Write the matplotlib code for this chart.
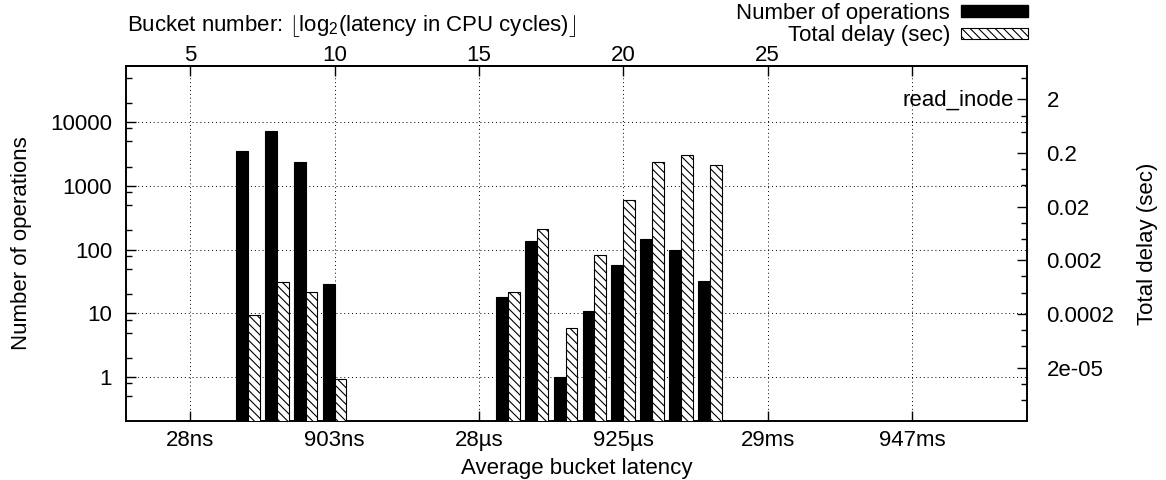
import matplotlib
matplotlib.use("Agg")
import matplotlib.pyplot as plt
from matplotlib.patches import Patch
from matplotlib.ticker import FixedLocator, LogLocator, NullFormatter
import numpy as np

plt.rcParams['font.family'] = ['Liberation Sans', 'DejaVu Sans']
plt.rcParams['font.size'] = 16
plt.rcParams['hatch.linewidth'] = 0.8
plt.rcParams['mathtext.fontset'] = 'custom'
plt.rcParams['mathtext.rm'] = 'Liberation Sans'

# bucket number = floor(log2(latency in CPU cycles))
buckets = [7, 8, 9, 10, 16, 17, 18, 19, 20, 21, 22, 23]
ops = [3550, 7300, 2400, 29, 18, 135, 1, 11, 58, 148, 99, 32]
delay = [1.9e-4, 7.9e-4, 5.2e-4, 1.2e-5, 5.1e-4, 7.8e-3, 1.1e-4, 2.55e-3,
         0.027, 0.138, 0.184, 0.12]

top_ticks = [5, 10, 15, 20, 25, 30]
top_labels = ['5', '10', '15', '20', '25', '']
bottom_labels = ['28ns', '903ns', '28µs', '925µs', '29ms', '947ms']
left_ticks = [1, 10, 100, 1000, 10000]
right_ticks = [2e-05, 0.0002, 0.002, 0.02, 0.2, 2]
right_labels = ['2e-05', '0.0002', '0.002', '0.02', '0.2', '2']

W, H = 1166, 480
fig = plt.figure(figsize=(W / 100, H / 100), dpi=100)
ax = fig.add_axes([126 / W, 59.3 / H, 901 / W, 354.7 / H])
ax2 = ax.twinx()

x = np.array(buckets)
bw = 0.41
hatch = '\\\\\\\\'
ax.bar(x - bw / 2, ops, width=bw, bottom=1e-3, color='black',
       edgecolor='black', linewidth=0.8, zorder=3)
ax2.bar(x + bw / 2, delay, width=bw, bottom=1e-9, color='white',
        edgecolor='black', linewidth=0.8, hatch=hatch, zorder=3)

ax.set_xlim(2.78, 33.98)
ax.set_yscale('log')
ax.set_ylim(0.208, 76000)
ax2.set_yscale('log')
ax2.set_ylim(2.04e-6, 8.4)

# bottom x axis: latency labels, top x axis: bucket numbers
ax.set_xticks(top_ticks)
ax.set_xticklabels(bottom_labels)
ax.set_xlabel('Average bucket latency', labelpad=5)
top = ax.secondary_xaxis('top')
top.set_xticks(top_ticks)
top.set_xticklabels(top_labels)
top.tick_params(direction='in', length=7, width=1, pad=0)
top.spines['top'].set_linewidth(1.2)

ax.yaxis.set_major_locator(FixedLocator(left_ticks))
ax.set_yticklabels([str(v) for v in left_ticks])
ax.yaxis.set_minor_locator(LogLocator(base=10, subs=(2, 5, 8)))
ax.yaxis.set_minor_formatter(NullFormatter())
ax.set_ylabel('Number of operations', labelpad=13)

ax2.yaxis.set_major_locator(FixedLocator(right_ticks))
ax2.set_yticklabels(right_labels)
ax2.yaxis.set_minor_locator(LogLocator(base=10, subs=(1, 5)))
ax2.yaxis.set_minor_formatter(NullFormatter())
ax2.set_ylabel('Total delay (sec)', labelpad=16)

ax.tick_params(axis='both', which='major', direction='in', length=7, width=1)
ax.tick_params(axis='y', which='minor', direction='in', length=4, width=1)
ax.tick_params(axis='y', which='major', pad=10)
ax.tick_params(axis='x', which='major', pad=7)
ax2.tick_params(axis='y', which='major', direction='in', length=7, width=1, pad=14)
ax2.tick_params(axis='y', which='minor', direction='in', length=4, width=1)

for a in (ax, ax2):
    for s in a.spines.values():
        s.set_linewidth(1.2)

ax.set_axisbelow(True)
ax.grid(True, axis='x', which='major', color='black', linestyle=(0, (1, 3)), linewidth=0.7)
ax.grid(True, axis='y', which='major', color='black', linestyle=(0, (1, 3)), linewidth=0.7)

ax.text(0.985, 0.904, 'read_inode', transform=ax.transAxes, ha='right', va='center')

fig.text(127 / W, 1 - 26 / H,
         r'Bucket number: $\lfloor$log$_2$(latency in CPU cycles)$\rfloor$',
         ha='left', va='center')

handles = [Patch(facecolor='black', edgecolor='black'),
           Patch(facecolor='white', edgecolor='black', hatch=hatch, linewidth=0.8)]
fig.legend(handles, ['Number of operations', 'Total delay (sec)'],
           loc='upper right', bbox_to_anchor=(1028 / W, 1 - 3 / H),
           frameon=False, markerfirst=False, handlelength=3.0, handleheight=0.4,
           borderaxespad=0, borderpad=0, labelspacing=0.05, handletextpad=0.5)

fig.savefig('out.png', dpi=100)
